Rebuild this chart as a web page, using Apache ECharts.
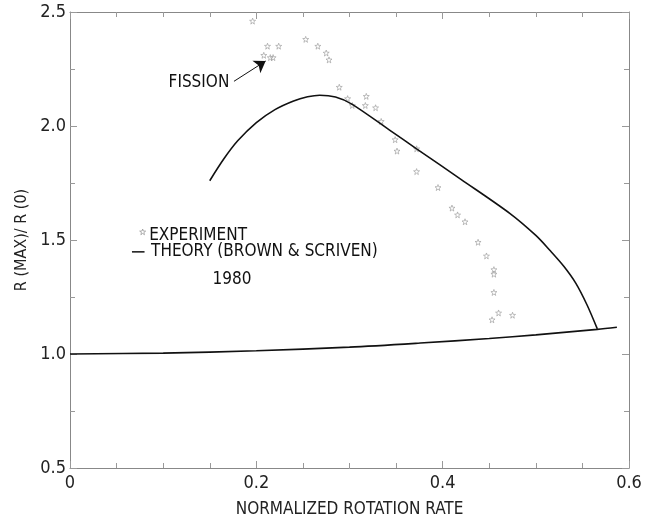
<!DOCTYPE html>
<html>
<head>
<meta charset="utf-8">
<script src="https://cdn.jsdelivr.net/npm/echarts@6/dist/echarts.min.js"></script>
<style>
  html, body { margin: 0; padding: 0; background: #fff; }
  #chart { width: 651px; height: 523px; }
</style>
</head>
<body>
<div id="chart"></div>
<script>
// experiment points (normalized rotation rate, R(max)/R(0))
var experimentX = [0.196, 0.212, 0.224, 0.208, 0.215, 0.218, 0.253, 0.266, 0.275, 0.278,
                   0.289, 0.298, 0.303, 0.318, 0.317, 0.328, 0.334, 0.349, 0.351, 0.372,
                   0.372, 0.395, 0.410, 0.416, 0.424, 0.438, 0.447, 0.455, 0.455, 0.455,
                   0.460, 0.453, 0.475];
var experimentY = [2.46, 2.35, 2.35, 2.31, 2.30, 2.30, 2.38, 2.35, 2.32, 2.29,
                   2.17, 2.12, 2.09, 2.13, 2.09, 2.08, 2.02, 1.94, 1.89, 1.90,
                   1.80, 1.73, 1.64, 1.61, 1.58, 1.49, 1.43, 1.37, 1.35, 1.27,
                   1.18, 1.15, 1.17];

// theory (Brown & Scriven 1980), upper branch
var theoryX = [0.150, 0.165, 0.180, 0.200, 0.220, 0.240, 0.255, 0.268, 0.285, 0.3025,
               0.343, 0.372, 0.420, 0.472, 0.500, 0.515, 0.530, 0.543, 0.555, 0.566];
var theoryY = [1.76, 1.855, 1.935, 2.015, 2.072, 2.11, 2.128, 2.135, 2.127, 2.096,
               1.982, 1.90, 1.765, 1.617, 1.52, 1.455, 1.385, 1.31, 1.215, 1.11];

// theory, lower branch
var baseX = [0, 0.10, 0.20, 0.30, 0.376, 0.45, 0.50, 0.566, 0.587];
var baseY = [1.0, 1.004, 1.014, 1.03, 1.048, 1.068, 1.084, 1.108, 1.117];

var xTicks = [0, 0.6, 0.2];     // min, max, interval
var yTicks = [0.5, 2.5, 0.5];

var FONT = "'Liberation Sans Narrow', 'DejaVu Sans Condensed', 'Liberation Sans', sans-serif";
var STAR = 'path://M0,-5L1.2,-1.6L5,-1.5L2,0.8L3,4.5L0,2.3L-3,4.5L-2,0.8L-5,-1.5L-1.2,-1.6Z';

function zip(a, b) {
    var out = [];
    for (var i = 0; i < a.length; i++) { out.push([a[i], b[i]]); }
    return out;
}

function axisBase(pos, t, showLabel) {
    return {
        type: 'value',
        position: pos,
        min: t[0], max: t[1], interval: t[2],
        axisLine: { show: true, onZero: false, lineStyle: { color: '#888', width: 1 } },
        axisTick: { show: true, inside: true, length: 7, lineStyle: { color: '#999' } },
        minorTick: { show: true, splitNumber: (pos === 'left' || pos === 'right') ? 2 : 4, length: 5, lineStyle: { color: '#999' } },
        splitLine: { show: false },
        axisLabel: {
            show: showLabel,
            color: '#222',
            fontFamily: FONT,
            fontSize: 18,
            formatter: function (v) { return v === 0 ? '0' : v.toFixed(1); }
        }
    };
}

var xBottom = axisBase('bottom', xTicks, true);
xBottom.axisLabel.margin = 6;
xBottom.name = 'NORMALIZED ROTATION RATE';
xBottom.nameLocation = 'middle';
xBottom.nameGap = 33;
xBottom.nameTextStyle = { color: '#222', fontFamily: FONT, fontSize: 17 };

var yLeft = axisBase('left', yTicks, true);
yLeft.axisLabel.margin = 4;
yLeft.name = 'R (MAX)/ R (0)';
yLeft.nameLocation = 'middle';
yLeft.nameGap = 35;
yLeft.nameTextStyle = { color: '#222', fontFamily: FONT, fontSize: 16 };

var option = {
    animation: false,
    backgroundColor: '#fff',
    grid: { left: 70, right: 22, top: 12, bottom: 51 },
    xAxis: [xBottom, axisBase('top', xTicks, false)],
    yAxis: [yLeft, axisBase('right', yTicks, false)],
    series: [
        {
            name: 'EXPERIMENT',
            type: 'scatter',
            data: zip(experimentX, experimentY),
            symbol: STAR,
            symbolSize: 6,
            itemStyle: { color: 'rgba(0,0,0,0)', borderColor: '#999', borderWidth: 0.8 },
            markLine: {
                silent: true,
                symbol: ['none', 'arrow'],
                symbolSize: 11,
                label: { show: false },
                lineStyle: { color: '#111', width: 1, type: 'solid' },
                data: [[{ coord: [0.176, 2.196] }, { coord: [0.210, 2.285] }]]
            }
        },
        {
            name: 'THEORY',
            type: 'line',
            data: zip(theoryX, theoryY),
            smooth: 0.3,
            showSymbol: false,
            lineStyle: { color: '#111', width: 1.6 }
        },
        {
            name: 'THEORY-BASE',
            type: 'line',
            data: zip(baseX, baseY),
            smooth: 0.3,
            showSymbol: false,
            lineStyle: { color: '#111', width: 1.6 }
        }
    ]
};

var myChart = echarts.init(document.getElementById('chart'));
myChart.setOption(option);

function px(x, y) { return myChart.convertToPixel({ gridIndex: 0 }, [x, y]); }

function label(text, x, y, align) {
    var p = px(x, y);
    return {
        type: 'text', x: p[0], y: p[1],
        style: { text: text, fill: '#111', font: '17px ' + FONT, textAlign: align || 'left', textVerticalAlign: 'middle' }
    };
}

var legStar = px(0.078, 1.535);
var dashA = px(0.0665, 1.448), dashB = px(0.080, 1.448);

myChart.setOption({
    graphic: [
        label('FISSION', 0.171, 2.19, 'right'),
        label('EXPERIMENT', 0.085, 1.52),
        label('THEORY (BROWN & SCRIVEN)', 0.087, 1.448),
        label('1980', 0.153, 1.326),
        {
            type: 'polygon', x: legStar[0], y: legStar[1],
            shape: { points: [[0, -3], [0.7, -1], [3, -0.9], [1.2, 0.5], [1.8, 2.7], [0, 1.4], [-1.8, 2.7], [-1.2, 0.5], [-3, -0.9], [-0.7, -1]] },
            style: { fill: 'rgba(0,0,0,0)', stroke: '#999', lineWidth: 0.8 }
        },
        {
            type: 'line',
            shape: { x1: dashA[0], y1: dashA[1], x2: dashB[0], y2: dashB[1] },
            style: { stroke: '#111', lineWidth: 1.5 }
        }
    ]
});
</script>
</body>
</html>
